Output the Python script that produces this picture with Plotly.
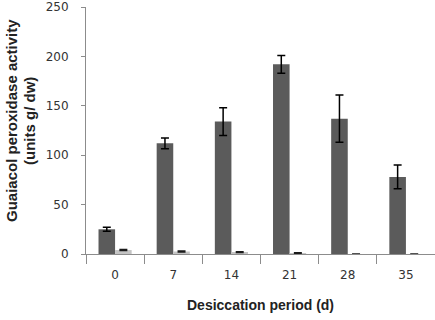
import plotly.graph_objects as go

categories = ["0", "7", "14", "21", "28", "35"]
dark_values = [25, 112, 134, 192, 137, 78]
dark_errors = [2, 5.5, 14, 9, 24, 12]
light_values = [4, 2.5, 2, 1, 0, 0]
light_errors = [0.5, 0.5, 0.4, 0.3, None, None]

y_ticks = [0, 50, 100, 150, 200, 250]

fig = go.Figure()
fig.add_trace(go.Bar(
    x=categories, y=dark_values,
    marker=dict(color="#5b5b5b", line=dict(width=0)),
    error_y=dict(type="data", array=dark_errors, color="#000000", thickness=1.5, width=4),
))
fig.add_trace(go.Bar(
    x=categories, y=light_values,
    marker=dict(color="#c4c4c4", line=dict(width=0)),
    error_y=dict(type="data", array=light_errors, color="#1a1a1a", thickness=1.5, width=4),
))

L, R, T, B = 86, 0, 7, 66
W, H = 435, 320
pw = W - L - R
ph = H - T - B

def px_x(x):
    return (x - L) / pw

def px_y(y):
    return (H - B - y) / ph

fig.update_layout(
    width=W, height=H,
    margin=dict(l=L, r=R, t=T, b=B, autoexpand=False),
    paper_bgcolor="white", plot_bgcolor="white",
    barmode="group", bargap=0.43, bargroupgap=0,
    showlegend=False,
    font=dict(family="DejaVu Sans", size=12, color="#333333"),
    xaxis=dict(
        type="category", showline=True, linecolor="#8c8c8c", linewidth=1,
        ticks="outside", tickson="boundaries", ticklen=9, tickcolor="#8c8c8c",
        tickfont=dict(family="DejaVu Sans", size=12, color="#333333"),
        ticklabelstandoff=10, automargin=False,
        showgrid=False, zeroline=False,
    ),
    yaxis=dict(
        range=[0, 250], tickvals=y_ticks,
        showline=True, linecolor="#8c8c8c", linewidth=1,
        ticks="outside", ticklen=4, tickcolor="#8c8c8c",
        tickfont=dict(family="DejaVu Sans", size=12, color="#333333"),
        ticklabelstandoff=10, automargin=False, ticklabeloverflow="allow",
        showgrid=False, zeroline=False,
    ),
    annotations=[
        dict(text="<b>Guaiacol peroxidase activity</b>",
             xref="paper", yref="paper", x=px_x(11), y=px_y(121),
             xanchor="center", yanchor="middle", textangle=-90, showarrow=False,
             font=dict(family="Liberation Sans", size=15, color="#222222")),
        dict(text="<b>(units g/ dw)</b>",
             xref="paper", yref="paper", x=px_x(29), y=px_y(121),
             xanchor="center", yanchor="middle", textangle=-90, showarrow=False,
             font=dict(family="Liberation Sans", size=15, color="#222222")),
        dict(text="<b>Desiccation period (d)</b>",
             xref="paper", yref="paper", x=0.5, y=px_y(305),
             xanchor="center", yanchor="middle", showarrow=False,
             font=dict(family="Liberation Sans", size=14, color="#222222")),
    ],
)

fig.write_html("out.html", config={"displayModeBar": False},
               post_script="document.body.style.margin='0';")
